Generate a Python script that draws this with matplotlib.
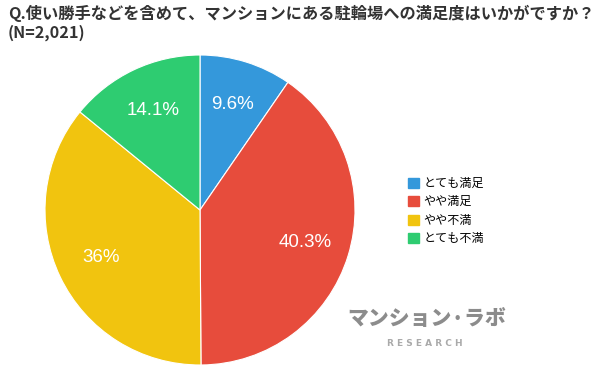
import matplotlib
matplotlib.use("Agg")
import matplotlib.pyplot as plt
from matplotlib.patches import Patch
import numpy as np

plt.rcParams['font.family'] = ['Noto Sans CJK JP', 'DejaVu Sans']

labels = ["とても満足", "やや満足", "やや不満", "とても不満"]
values = [9.6, 40.3, 36.0, 14.1]
pct_labels = ["9.6%", "40.3%", "36%", "14.1%"]
colors = ["#3498db", "#e74c3c", "#f1c40f", "#2ecc71"]
title = "Q.使い勝手などを含めて、マンションにある駐輪場への満足度はいかがですか？\n(N=2,021)"

W, H = 595, 376
fig = plt.figure(figsize=(W/100, H/100), dpi=100)
fig.patch.set_facecolor("white")

cx, cy, r = 200, 210, 155
ax = fig.add_axes([(cx - r)/W, 1 - (cy + r)/H, 2*r/W, 2*r/H])
wedges, _ = ax.pie(values, colors=colors, startangle=90, counterclock=False,
                   radius=1.0, wedgeprops=dict(linewidth=0.8, edgecolor="white"))
ang = 90
for v, lab in zip(values, pct_labels):
    mid = ang - v/100*360/2
    ang -= v/100*360
    rr = 0.71
    ax.text(rr*np.cos(np.radians(mid)), rr*np.sin(np.radians(mid)), lab,
            ha="center", va="center", color="white", fontsize=13.5,
            family=["Liberation Sans", "DejaVu Sans"])
ax.set_xlim(-1, 1); ax.set_ylim(-1, 1)
ax.set_aspect("auto")
ax.axis("off")

fig.text(8/W, 1 - 5/H, title, ha="left", va="top", fontsize=11.7,
         fontweight="bold", color="#333333", linespacing=1.15)

handles = [Patch(facecolor=c, edgecolor=c) for c in colors]
fig.legend(handles, labels, loc="upper left", bbox_to_anchor=(403/W, 1 - 172/H),
           frameon=False, fontsize=8.7, handlelength=0.9, handleheight=0.9,
           handletextpad=0.4, labelspacing=0.45, borderaxespad=0)

fig.text(427/W, 1 - 319/H, "マンション·ラボ", ha="center", va="center",
         fontsize=15, fontweight="heavy", color="#8c8c8c")
fig.text(425/W, 1 - 343/H, "R E S E A R C H", ha="center", va="center",
         fontsize=6.5, fontweight="bold", color="#aaaaaa",
         family=["DejaVu Sans"])

fig.savefig("out.png", dpi=100, facecolor="white")
